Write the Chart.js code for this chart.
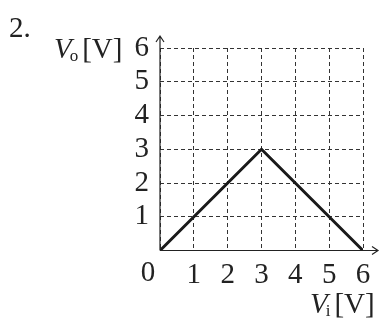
<!DOCTYPE html>
<html><head><meta charset="utf-8">
<script src="https://cdn.jsdelivr.net/npm/chart.js@4/dist/chart.umd.min.js"></script>
<style>html,body{margin:0;padding:0;background:#fff}#wrap{width:381px;height:321px}</style>
</head><body><div id="wrap"><canvas id="c" width="381" height="321"></canvas></div>
<script>
const viValues = [0, 3, 6];
const voValues = [0, 3, 0];
const xTickValues = [0, 1, 2, 3, 4, 5, 6];
const yTickValues = [0, 1, 2, 3, 4, 5, 6];
const problemLabel = '2.';

const FONT = '"Liberation Serif", "DejaVu Serif", serif';
const FS = 29;

const decor = {
  id: 'decor',
  afterDraw(chart) {
    const ctx = chart.ctx, xs = chart.scales.x, ys = chart.scales.y;
    const x0 = xs.getPixelForValue(0), y0 = ys.getPixelForValue(0);
    const xEnd = xs.getPixelForValue(6) + 15, yEnd = ys.getPixelForValue(6) - 12;
    ctx.save();
    ctx.strokeStyle = '#222'; ctx.lineWidth = 1.2; ctx.setLineDash([]);
    ctx.beginPath();
    ctx.moveTo(x0, y0); ctx.lineTo(xEnd, y0);
    ctx.moveTo(x0, y0); ctx.lineTo(x0, yEnd);
    ctx.moveTo(xEnd - 6, y0 - 4); ctx.lineTo(xEnd, y0); ctx.lineTo(xEnd - 6, y0 + 4);
    ctx.moveTo(x0 - 4, yEnd + 6); ctx.lineTo(x0, yEnd); ctx.lineTo(x0 + 4, yEnd + 6);
    ctx.stroke();
    ctx.fillStyle = '#222';
    ctx.textBaseline = 'alphabetic';
    ctx.font = FS + 'px ' + FONT; ctx.textAlign = 'center';
    ctx.fillText('0', x0 - 12, 281);
    ctx.textAlign = 'left';
    ctx.fillText(problemLabel, 9, 37);
    const drawTitle = (x, base, sub) => {
      ctx.font = 'italic ' + FS + 'px ' + FONT; ctx.textAlign = 'left';
      ctx.fillText('V', x, base);
      let w = ctx.measureText('V').width;
      ctx.font = '17px ' + FONT;
      ctx.fillText(sub, x + w - 2, base + 3);
      let w2 = ctx.measureText(sub).width;
      ctx.font = FS + 'px ' + FONT;
      ctx.fillText('[V]', x + w + w2 + 2, base);
    };
    drawTitle(54, 58, 'o');
    drawTitle(310, 313, 'i');
    ctx.restore();
  }
};

new Chart(document.getElementById('c'), {
  type: 'scatter',
  data: { datasets: [{
    data: viValues.map((v, i) => ({x: v, y: voValues[i]})),
    showLine: true, borderColor: '#1a1a1a', borderWidth: 3, pointRadius: 0,
    borderJoinStyle: 'miter', fill: false
  }]},
  options: {
    responsive: false, animation: false,
    layout: { padding: { left: 0, right: 18, top: 48, bottom: 0 } },
    plugins: { legend: { display: false }, tooltip: { enabled: false } },
    scales: {
      x: {
        type: 'linear', min: 0, max: 6,
        afterBuildTicks: s => { s.ticks = xTickValues.map(v => ({value: v})); },
        afterFit: s => { s.height = 70.5; },
        grid: { color: '#333', lineWidth: 1, drawTicks: false },
        border: { display: false, dash: [4, 3] },
        ticks: { padding: 7, autoSkip: false, color: '#222', font: { family: FONT, size: FS }, maxRotation: 0,
          callback: v => v === 0 ? '' : String(v) }
      },
      y: {
        type: 'linear', min: 0, max: 6,
        afterBuildTicks: s => { s.ticks = yTickValues.map(v => ({value: v})); },
        afterFit: s => { s.width = 160; },
        grid: { color: '#333', lineWidth: 1, drawTicks: false },
        border: { display: false, dash: [4, 3] },
        ticks: { padding: 11, autoSkip: false, color: '#222', font: { family: FONT, size: FS },
          callback: v => v === 0 ? '' : String(v) }
      }
    }
  },
  plugins: [decor]
});
</script></body></html>
